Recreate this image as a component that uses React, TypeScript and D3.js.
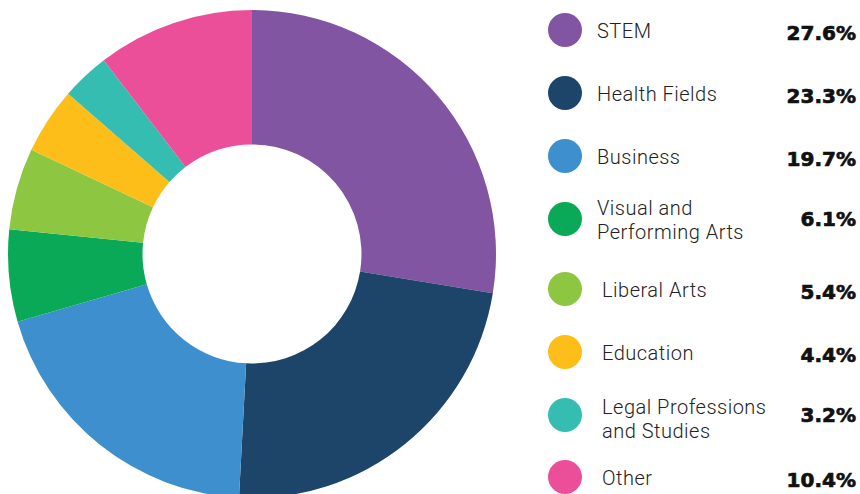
import React from "react";
import * as d3 from "d3";

const categories = [
  "STEM",
  "Health Fields",
  "Business",
  "Visual and Performing Arts",
  "Liberal Arts",
  "Education",
  "Legal Professions and Studies",
  "Other",
];
const labelLines = [
  ["STEM"],
  ["Health Fields"],
  ["Business"],
  ["Visual and", "Performing Arts"],
  ["Liberal Arts"],
  ["Education"],
  ["Legal Professions", "and Studies"],
  ["Other"],
];
const shares = [27.6, 23.3, 19.7, 6.1, 5.4, 4.4, 3.2, 10.4];
const colors = ["#8155a2", "#1c4569", "#3d90cd", "#09a958", "#8dc641", "#fdbe19", "#36bdb2", "#ec4f99"];

const width = 860;
const height = 494;

// legend layout (row centres and small text indents as in the original)
const rowY = [30, 93, 156, 219, 289, 352, 415, 477];
const labelDy = [8, 8, 8, -4, 8, 8, -1, 8];
const nudge = [0, 0, 0, 0, 5, 5, 5, 5];

const App = () => {
  const cx = 252;
  const cy = 254;
  const outer = 244;
  const inner = 109.5;

  const pie = d3
    .pie<number>()
    .sort(null)
    .value((d) => d);
  const arcs = pie(shares);
  const arc = d3.arc<d3.PieArcDatum<number>>().innerRadius(inner).outerRadius(outer);

  return (
    <svg width={width} height={height} style={{ position: "absolute", left: 0, top: 0 }}>
      <g transform={`translate(${cx},${cy})`}>
        {arcs.map((a, i) => (
          <path key={categories[i]} d={arc(a) || ""} fill={colors[i]} />
        ))}
      </g>
      <g>
        {categories.map((c, i) => {
          const y = rowY[i];
          const lines = labelLines[i];
          const tx = 597 + nudge[i];
          return (
            <g key={c}>
              <circle cx={565} cy={y} r={17} fill={colors[i]} />
              <text
                x={tx}
                y={y + labelDy[i]}
                fontFamily="Roboto, sans-serif"
                fontWeight={300}
                fontSize={20}
                letterSpacing={0.5}
                fill="#222"
              >
                {lines.map((l, j) => (
                  <tspan key={j} x={tx} dy={j === 0 ? 0 : 24}>
                    {l}
                  </tspan>
                ))}
              </text>
              <text
                x={856}
                y={y + (lines.length > 1 ? 6.5 : 9.5)}
                textAnchor="end"
                fontFamily="'DejaVu Sans', sans-serif"
                fontWeight={700}
                fontSize={20}
                fill="#111"
                stroke="#111"
                strokeWidth={0.7}
              >
                {shares[i].toFixed(1)}%
              </text>
            </g>
          );
        })}
      </g>
    </svg>
  );
};

export default App;
